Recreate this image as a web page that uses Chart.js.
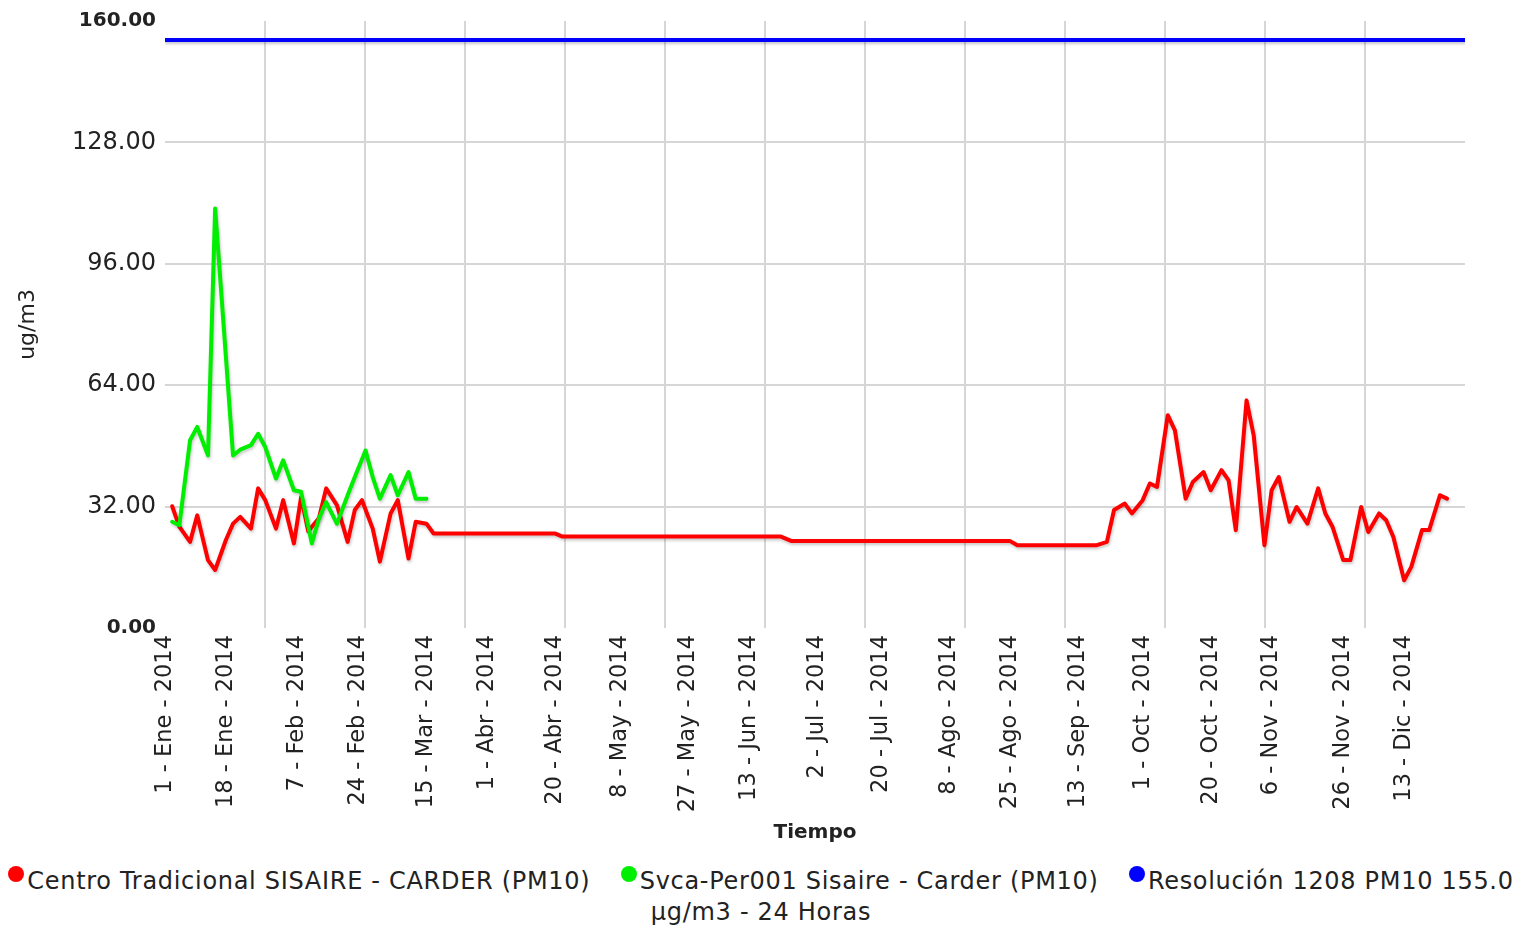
<!DOCTYPE html>
<html lang="es">
<head>
<meta charset="utf-8">
<title>PM10 - 2014</title>
<script src="https://cdn.jsdelivr.net/npm/chart.js@4.4.1/dist/chart.umd.min.js"></script>
<style>
    html, body { margin: 0; padding: 0; background: #fff; }
    #wrap { width: 1522px; height: 928px; position: relative; }
    #grafico { display: block; }
    #leyenda {
        width: 1516px;
        margin: 0 auto;
        padding-top: 11px;
        text-align: center;
        font-family: 'DejaVu Sans', sans-serif;
        font-size: 24px;
        letter-spacing: 0.7px;
        line-height: 31px;
        color: #222;
    }
    #leyenda .punto {
        display: inline-block;
        width: 16px;
        height: 16px;
        border-radius: 50%;
        margin: 0 3px 0 22px;
        vertical-align: 7px;
    }
    #leyenda .punto.primero { margin-left: 0; }
</style>
</head>
<body>
<div id="wrap">
    <canvas id="grafico" width="1522" height="855"></canvas>
    <div id="leyenda"></div>
</div>
<script>
// ─── DATOS ────────────────────────────────────────────────
// etiquetas del eje x (fechas mostradas)
const etiquetasX = [
    '1 - Ene - 2014', '18 - Ene - 2014', '7 - Feb - 2014', '24 - Feb - 2014',
    '15 - Mar - 2014', '1 - Abr - 2014', '20 - Abr - 2014', '8 - May - 2014',
    '27 - May - 2014', '13 - Jun - 2014', '2 - Jul - 2014', '20 - Jul - 2014',
    '8 - Ago - 2014', '25 - Ago - 2014', '13 - Sep - 2014', '1 - Oct - 2014',
    '20 - Oct - 2014', '6 - Nov - 2014', '26 - Nov - 2014', '13 - Dic - 2014',
];
const ticksY = [0, 32, 64, 96, 128, 160];

// Centro Tradicional SISAIRE - CARDER (PM10) — día del año / valor
const diasCentro = [
    2, 4, 7, 9, 12, 14, 17, 19, 21, 24, 26, 28, 31, 33, 36, 38, 40, 43, 45, 48,
    51, 53, 55, 58, 60, 63, 65, 68, 70, 73, 75,
    109, 111, 172, 175, 236, 238, 260,
    263, 265, 268, 270, 273, 275, 277, 280, 282, 285, 287, 290, 292, 295, 297, 299,
    302, 304, 307, 309, 311, 314, 316, 319, 322, 324, 326, 329, 331, 334, 336, 339,
    341, 343, 346, 348, 351, 353, 356, 358,
];
const valoresCentro = [
    32.1, 26.7, 22.7, 29.7, 17.9, 15.3, 23.2, 27.5, 29.3, 26.2, 36.8, 33.7, 26.2, 33.7, 22.3, 34.5, 25.5, 29.0, 36.8, 32.4,
    22.7, 31.1, 33.7, 26.2, 17.5, 30.2, 33.7, 18.3, 28.0, 27.5, 24.9,
    24.9, 24.1, 24.1, 22.9, 22.9, 21.8, 21.8,
    22.7, 31.1, 32.8, 30.2, 33.7, 38.1, 37.2, 56.1, 52.1, 34.1, 38.5, 41.1, 36.3, 41.6, 38.9, 25.8,
    60.0, 50.8, 21.8, 36.3, 39.8, 28.0, 31.9, 27.5, 36.8, 30.2, 26.7, 17.9, 17.9, 31.9, 25.3, 30.2,
    28.4, 24.0, 12.6, 16.1, 25.8, 25.8, 35.0, 34.1,
];

// Svca-Per001 Sisaire - Carder (PM10)
const diasSvca = [
    2, 4, 7, 9, 12, 14, 19, 21, 24, 26, 28, 31, 33, 36, 38, 41, 43, 45, 48,
    51, 53, 56, 58, 60, 63, 65, 68, 70, 73,
];
const valoresSvca = [
    28.0, 27.1, 49.5, 53.0, 45.5, 110.6, 45.5, 47.0, 48.2, 51.2, 47.7, 39.4, 44.2, 36.3, 35.9, 22.3, 28.9, 33.2, 27.5,
    35.0, 39.8, 46.8, 39.8, 34.1, 40.3, 35.0, 41.1, 34.1, 34.1,
];

// Resolución 1208 — norma PM10 24 h
const diasNorma = [0, 363];
const valoresNorma = [155, 155];

const series = [
    { nombre: 'Centro Tradicional SISAIRE - CARDER (PM10)', dias: diasCentro, valores: valoresCentro, color: '#ff0000', orden: 2 },
    { nombre: 'Svca-Per001 Sisaire - Carder (PM10)', dias: diasSvca, valores: valoresSvca, color: '#00ee00', orden: 1 },
    { nombre: 'Resolución 1208 PM10 155.0 μg/m3 - 24 Horas', dias: diasNorma, valores: valoresNorma, color: '#0000ff', orden: 0 },
];

// ─── HELPERS ──────────────────────────────────────────────
const FUENTE = "'DejaVu Sans', sans-serif";
const MESES = { Ene: 0, Feb: 31, Mar: 59, Abr: 90, May: 120, Jun: 151, Jul: 181, Ago: 212, Sep: 243, Oct: 273, Nov: 304, Dic: 334 };
const diaDelAnio = (txt) => {
    const [d, m] = txt.split(' - ');
    return MESES[m] + Number(d) - 1;
};

const X_MAX = 363;
const DIVISIONES = 13;
const lineasX = [];
for (let k = 1; k < DIVISIONES; k++) lineasX.push(X_MAX * k / DIVISIONES);

const mapaEtiquetas = new Map(etiquetasX.map(t => [diaDelAnio(t), t]));
const ticksX = [...new Set([...mapaEtiquetas.keys(), ...lineasX])].sort((a, b) => a - b);

// sombra ligera bajo las líneas
const sombra = {
    id: 'sombra',
    beforeDatasetDraw(chart) {
        const c = chart.ctx;
        c.save();
        c.shadowColor = 'rgba(0,0,0,0.22)';
        c.shadowBlur = 3;
        c.shadowOffsetX = 1;
        c.shadowOffsetY = 2;
    },
    afterDatasetDraw(chart) {
        chart.ctx.restore();
    },
};

// ─── GRÁFICO ──────────────────────────────────────────────
const grafico = new Chart(document.getElementById('grafico'), {
    type: 'line',
    data: {
        datasets: series.map(s => ({
            label: s.nombre,
            data: s.dias.map((d, i) => ({ x: d, y: s.valores[i] })),
            borderColor: s.color,
            backgroundColor: s.color,
            borderWidth: 4,
            pointRadius: 0,
            tension: 0,
            fill: false,
            order: s.orden,
            borderJoinStyle: 'round',
            borderCapStyle: 'round',
        })),
    },
    options: {
        responsive: false,
        animation: false,
        layout: { padding: { top: 20, right: 57, left: 0, bottom: 0 } },
        plugins: {
            legend: { display: false },
            tooltip: { enabled: false },
        },
        scales: {
            x: {
                type: 'linear',
                min: 0,
                max: X_MAX,
                afterBuildTicks: (s) => { s.ticks = ticksX.map(v => ({ value: v })); },
                afterFit: (s) => { s.height = 227; },
                border: { display: false },
                grid: {
                    drawTicks: false,
                    lineWidth: 2,
                    color: (ctx) => (ctx.tick && lineasX.includes(ctx.tick.value)) ? '#d6d6d6' : 'rgba(0,0,0,0)',
                },
                ticks: {
                    autoSkip: false,
                    minRotation: 90,
                    maxRotation: 90,
                    padding: 7,
                    color: '#222',
                    font: { family: FUENTE, size: 22.5 },
                    callback: (v) => mapaEtiquetas.get(v) || '',
                },
                title: {
                    display: true,
                    text: 'Tiempo',
                    color: '#222',
                    font: { family: FUENTE, size: 20, weight: 'bold' },
                    padding: { top: 0, bottom: 10 },
                },
            },
            y: {
                min: 0,
                max: 160,
                afterBuildTicks: (s) => { s.ticks = ticksY.map(v => ({ value: v })); },
                afterFit: (s) => { s.width = 165; },
                border: { display: false },
                grid: {
                    drawTicks: false,
                    lineWidth: 2,
                    color: (ctx) => (ctx.tick && (ctx.tick.value === 0 || ctx.tick.value === 160)) ? 'rgba(0,0,0,0)' : '#d6d6d6',
                },
                ticks: {
                    padding: 9,
                    color: '#222',
                    font: (ctx) => {
                        const extremo = ctx.tick && (ctx.tick.value === 0 || ctx.tick.value === 160);
                        return { family: FUENTE, size: extremo ? 20 : 24, weight: extremo ? 'bold' : 'normal' };
                    },
                    callback: (v) => Number(v).toFixed(2),
                },
                title: {
                    display: true,
                    text: 'ug/m3',
                    color: '#222',
                    font: { family: FUENTE, size: 22 },
                    padding: { top: 15, bottom: 0 },
                },
            },
        },
    },
    plugins: [sombra],
});

// ─── LEYENDA ──────────────────────────────────────────────
const leyenda = document.getElementById('leyenda');
series.forEach((s, i) => {
    leyenda.insertAdjacentHTML('beforeend',
        `<span class="punto${i === 0 ? ' primero' : ''}" style="background:${s.color}"></span>${s.nombre} `);
});
</script>
</body>
</html>
